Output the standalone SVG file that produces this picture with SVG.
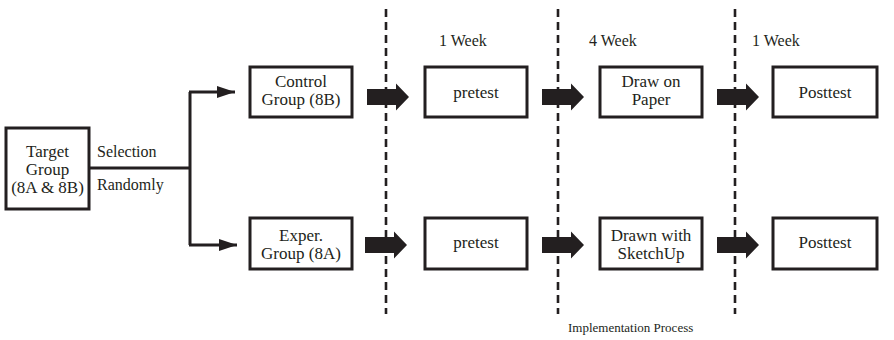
<svg xmlns="http://www.w3.org/2000/svg" width="894" height="340" viewBox="0 0 894 340">
<defs>
<style>
.box{fill:#fff;stroke:#231f20;stroke-width:3}
.t{font-family:"Liberation Serif","DejaVu Serif",serif;font-size:17px;fill:#231f20;text-anchor:middle}
.l{font-family:"Liberation Serif","DejaVu Serif",serif;font-size:16px;fill:#231f20}
.dash{stroke:#231f20;stroke-width:2.6;stroke-dasharray:8 5;fill:none}
.conn{stroke:#231f20;stroke-width:3;fill:none}
.blk{fill:#231f20}
</style>
<marker id="ah" markerWidth="18" markerHeight="12" refX="18" refY="6" orient="auto" markerUnits="userSpaceOnUse">
<path d="M0,0 L18,6 L0,12 Z" fill="#231f20"/>
</marker>
<path id="ba" d="M0,-8 L29,-8 L29,-13.5 L42,0 L29,13.5 L29,8 L0,8 Z"/>
</defs>
<rect width="894" height="340" fill="#fff"/>
<g id="phases">
<line class="dash" x1="386" y1="9" x2="386" y2="314"/>
<line class="dash" x1="558" y1="9" x2="558" y2="314"/>
<line class="dash" x1="735" y1="9" x2="735" y2="314"/>
<text class="l" x="439" y="46">1 Week</text>
<text class="l" x="589" y="46">4 Week</text>
<text class="l" x="752" y="46">1 Week</text>
<text class="l" x="568" y="332" style="font-size:13px">Implementation Process</text>
</g>
<g id="connectors">
<path class="conn" d="M90,168 H190 M190,92 V245"/>
<path class="conn" d="M189,92 H235" marker-end="url(#ah)"/>
<path class="conn" d="M189,245 H237" marker-end="url(#ah)"/>
<text class="l" x="97" y="157">Selection</text>
<text class="l" x="97" y="190">Randomly</text>
<use class="blk" href="#ba" x="367" y="97"/>
<use class="blk" href="#ba" x="542" y="97"/>
<use class="blk" href="#ba" x="717" y="97"/>
<use class="blk" href="#ba" x="365" y="245"/>
<use class="blk" href="#ba" x="542" y="245"/>
<use class="blk" href="#ba" x="717" y="245"/>
</g>
<g id="target">
<rect class="box" x="6" y="128" width="83" height="81"/>
<text class="t" x="47.5" y="157">Target</text>
<text class="t" x="47.5" y="175">Group</text>
<text class="t" x="47.5" y="193">(8A &amp; 8B)</text>
</g>
<g id="control">
<rect class="box" x="250" y="67" width="102" height="50"/>
<text class="t" x="301" y="87">Control</text>
<text class="t" x="301" y="105">Group (8B)</text>
</g>
<g id="pretest1">
<rect class="box" x="425" y="67" width="102" height="50"/>
<text class="t" x="476" y="98">pretest</text>
</g>
<g id="paper">
<rect class="box" x="600" y="67" width="102" height="50"/>
<text class="t" x="651" y="87">Draw on</text>
<text class="t" x="651" y="105">Paper</text>
</g>
<g id="posttest1">
<rect class="box" x="773" y="67" width="104" height="50"/>
<text class="t" x="825" y="98">Posttest</text>
</g>
<g id="exper">
<rect class="box" x="250" y="218" width="102" height="51"/>
<text class="t" x="301" y="241">Exper.</text>
<text class="t" x="301" y="259">Group (8A)</text>
</g>
<g id="pretest2">
<rect class="box" x="425" y="218" width="102" height="51"/>
<text class="t" x="476" y="248">pretest</text>
</g>
<g id="sketchup">
<rect class="box" x="600" y="218" width="102" height="51"/>
<text class="t" x="651" y="241">Drawn with</text>
<text class="t" x="651" y="259">SketchUp</text>
</g>
<g id="posttest2">
<rect class="box" x="773" y="218" width="104" height="51"/>
<text class="t" x="825" y="248">Posttest</text>
</g>
</svg>
